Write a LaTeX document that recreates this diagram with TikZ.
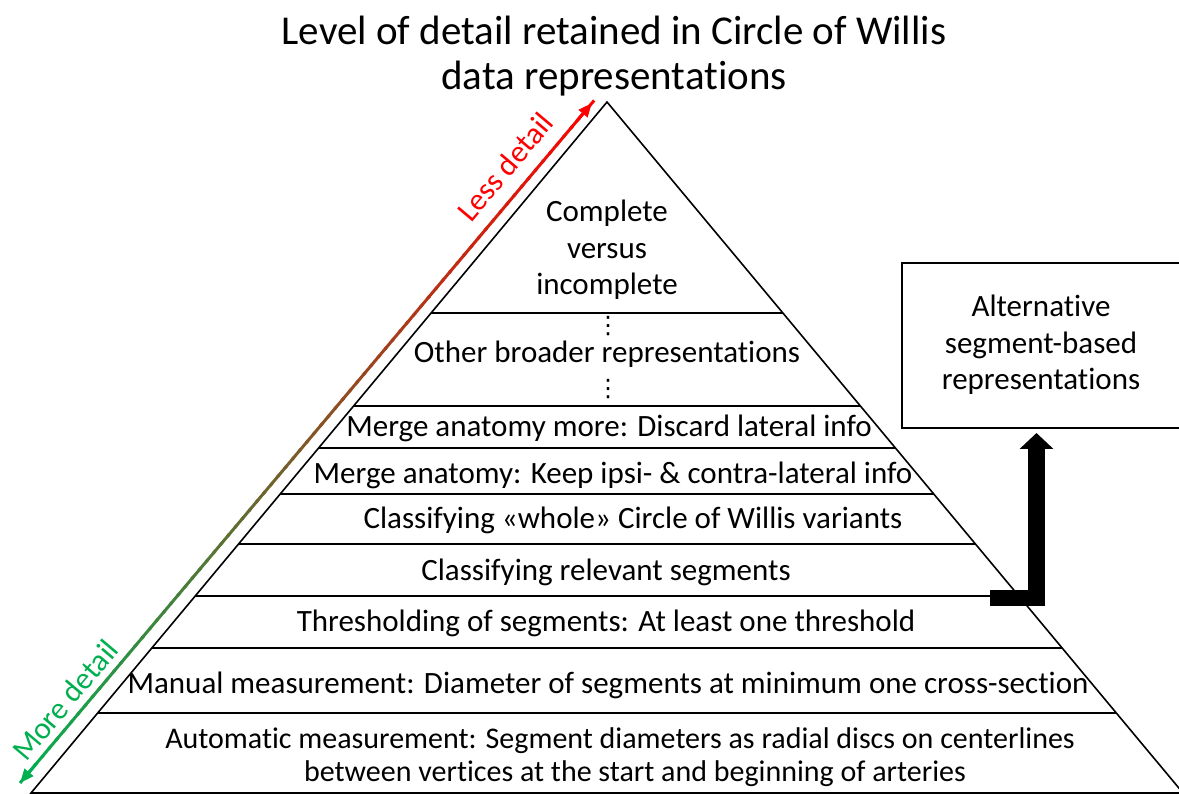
\documentclass[tikz,border=0pt]{standalone}
\usepackage{fontspec}
\setmainfont[Ligatures=NoCommon]{Carlito}
\newfontfamily\symfont{DejaVu Sans}
\usetikzlibrary{calc,arrows.meta}
\definecolor{lessred}{RGB}{255,0,0}
\definecolor{moregreen}{RGB}{0,176,80}
\begin{document}
\begin{tikzpicture}[x=1pt,y=-1pt,
  edge/.style={line width=1.6pt, black},
  lbl/.style={font=\fontsize{31}{36.5}\selectfont, align=center, inner sep=0pt},
  ttl/.style={font=\fontsize{41}{45}\selectfont, align=center, inner sep=0pt},
  ellip/.style={font=\symfont\fontsize{24}{24}\selectfont, inner sep=0pt},
  side/.style={font=\fontsize{31}{36}\selectfont, inner sep=0pt, rotate=49.9}]
\useasboundingbox (0,0) rectangle (1179,794);
\fill[white] (0,0) rectangle (1179,794);
\begin{scope}
\clip (0,0) rectangle (1179,794);

% pyramid outline
\coordinate (apex) at (607,102);
\coordinate (bl) at (31,793);
\coordinate (br) at (1183,793);
\draw[edge, line join=miter] (bl) -- (apex) -- (br) -- cycle;

% level dividers
\foreach \yy in {313,406,448,494,544,596,648,713} {
  \pgfmathsetmacro\tt{(\yy-102)/691}
  \draw[edge] ($(apex)!\tt!(bl)$) -- ($(apex)!\tt!(br)$);
}

% title
\node[ttl] (title) at (614,56) {Level of detail retained in Circle of Willis\\data representations};

% level labels
\node[lbl] (complete) at (607,250) {Complete\\versus\\incomplete};
\node[ellip] (dotsA) at (608,326) {⋮};
\node[lbl, anchor=base] (other) at (607,363) {Other broader representations};
\node[ellip] (dotsB) at (608,389) {⋮};
\node[lbl, anchor=base] (mergemore) at (609,436) {Merge anatomy more: Discard lateral info};
\node[lbl, anchor=base] (mergekeep) at (613,483) {Merge anatomy: Keep ipsi- \& contra-lateral info};
\node[lbl, anchor=base] (whole) at (633,528) {Classifying «whole» Circle of Willis variants};
\node[lbl, anchor=base] (relevant) at (606,580) {Classifying relevant segments};
\node[lbl, anchor=base] (threshold) at (606,631) {Thresholding of segments: At least one threshold};
\node[lbl, anchor=base] (manual) at (608,693) {Manual measurement: Diameter of segments at minimum one cross-section};
\node[lbl, font=\fontsize{30}{32.5}\selectfont] (automatic) at (620,757) {Automatic measurement: Segment diameters as radial discs on centerlines\\\hspace*{30pt}between vertices at the start and beginning of arteries};

% side box
\node[draw, line width=1.6pt, minimum width=282, minimum height=165, anchor=north west, inner sep=0pt] (alt) at (901,262) {};
\node[lbl] (alttext) at (1041,345) {Alternative\\segment-based\\representations};

% thick black elbow arrow from the segment level to the side box
\coordinate (elbowstart) at (990,598);
\coordinate (elbowend) at (1036.5,433);
\draw[line width=16.5pt, line join=miter, -{Triangle[width=33pt,length=16pt]}] (elbowstart) -| (elbowend);

% detail axis with colour fading from green (bottom) to red (top)
\coordinate (moretip) at (20,783);
\coordinate (lesstip) at (592,103);
\foreach \i in {0,...,79} {
  \pgfmathsetmacro\fa{\i/80}
  \pgfmathsetmacro\fb{(\i+1.3)/80}
  \pgfmathsetmacro\pct{100*(\i+0.5)/80}
  \draw[line width=3pt, color=lessred!\pct!moregreen] ($(moretip)!\fa!(lesstip)$) -- ($(moretip)!\fb!(lesstip)$);
}
\draw[line width=3pt, lessred, -{Triangle[length=14pt,width=11pt]}] ($(lesstip)!24pt!(moretip)$) -- (lesstip);
\draw[line width=3pt, moregreen, -{Triangle[length=14pt,width=11pt]}] ($(moretip)!24pt!(lesstip)$) -- (moretip);

\node[side, text=lessred] (less) at (505,167) {Less detail};
\node[side, text=moregreen] (more) at (65,700) {More detail};
\end{scope}
\end{tikzpicture}
\end{document}
